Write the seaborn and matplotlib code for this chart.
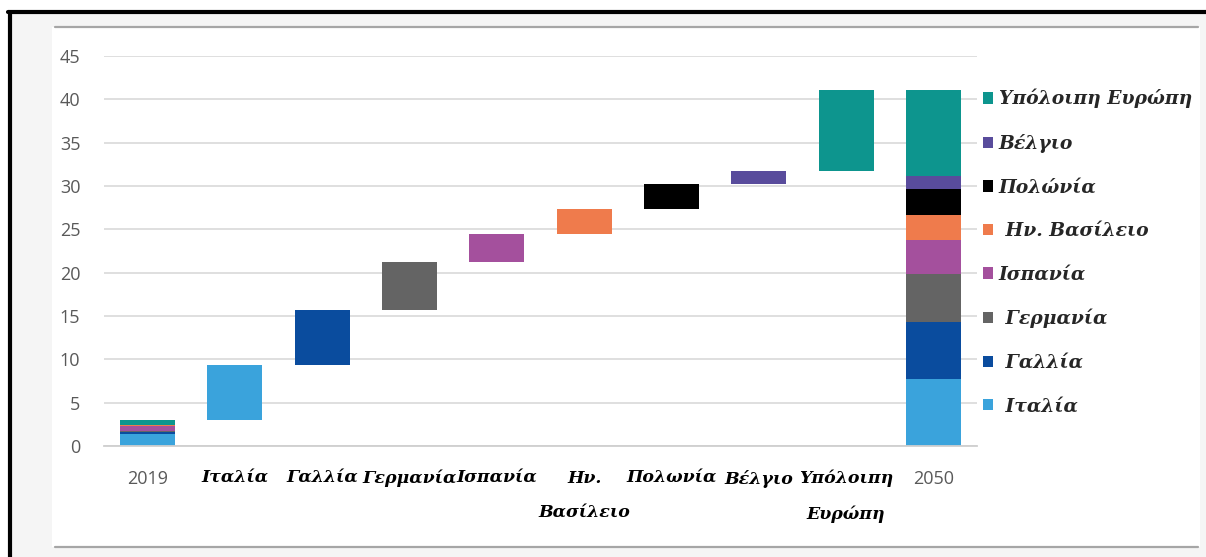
import matplotlib
matplotlib.use("Agg")
import matplotlib.pyplot as plt
from matplotlib.lines import Line2D
from matplotlib.patches import Rectangle, Patch
from matplotlib.font_manager import FontProperties
import seaborn as sns
import pandas as pd
import numpy as np

# ---- data -------------------------------------------------------------
countries = ["Ιταλία", "Γαλλία", "Γερμανία", "Ισπανία", "Ην. Βασίλειο",
             "Πολωνία", "Βέλγιο", "Υπόλοιπη Ευρώπη"]
tick_labels = ["2019", "Ιταλία", "Γαλλία", "Γερμανία", "Ισπανία",
               "Ην.\nΒασίλειο", "Πολωνία", "Βέλγιο", "Υπόλοιπη\nΕυρώπη", "2050"]
legend_labels = [" Ιταλία", " Γαλλία", " Γερμανία", "Ισπανία",
                 " Ην. Βασίλειο", "Πολώνία", "Βέλγιο", "Υπόλοιπη Ευρώπη"]
values_2019 = [1.4, 0.2, 0.1, 0.6, 0.1, 0.0, 0.0, 0.6]
values_2050 = [7.7, 6.6, 5.6, 3.9, 2.9, 2.9, 1.5, 10.0]
colors = ["#3aa3dc", "#0a4c9e", "#646464", "#a4509d",
          "#ef7b4c", "#000000", "#594c9c", "#0d958e"]

# ---- segments of the waterfall ---------------------------------------
rows = []
base = 0.0
for c, v, col in zip(countries, values_2019, colors):
    rows.append(("2019", c, base, v, col))
    base += v
level = base
for lab, v19, v50, col, c in zip(tick_labels[1:-1], values_2019, values_2050, colors, countries):
    step = v50 - v19
    rows.append((lab, c, level, step, col))
    level += step
base = 0.0
for c, v, col in zip(countries, values_2050, colors):
    rows.append(("2050", c, base, v, col))
    base += v
segments = pd.DataFrame(rows, columns=["column", "country", "bottom", "height", "color"])

# ---- figure -----------------------------------------------------------
W, H = 1206, 557
sns.set_theme(style="white")
plt.rcParams["font.family"] = ["Open Sans", "DejaVu Sans"]
fig = plt.figure(figsize=(W / 100, H / 100), dpi=100)
fig.patch.set_facecolor("white")


def fxy(x, y):
    return x / W, 1 - y / H


# outer frame and panel
x0, y0 = fxy(10, 557)
x1, y1 = fxy(1206, 12)
fig.add_artist(Rectangle((x0, y0), x1 - x0, y1 - y0, transform=fig.transFigure,
                         facecolor="#f5f5f5", edgecolor="none", zorder=-3))
x0, y0 = fxy(52, 547)
x1, y1 = fxy(1200, 27)
fig.add_artist(Rectangle((x0, y0), x1 - x0, y1 - y0, transform=fig.transFigure,
                         facecolor="white", edgecolor="none", zorder=-2))
for yy in (27, 547):
    a, b = fxy(55, yy)
    c, _ = fxy(1198, yy)
    fig.add_artist(Line2D([a, c], [b, b], transform=fig.transFigure,
                          color="#a6a6a6", lw=1.6))
a, b = fxy(8, 12)
c, _ = fxy(1206, 12)
fig.add_artist(Line2D([a, c], [b, b], transform=fig.transFigure, color="black", lw=3))
a, b = fxy(10, 12)
_, d = fxy(10, 557)
fig.add_artist(Line2D([a, a], [b, d], transform=fig.transFigure, color="black", lw=3))

ax_l, ax_b = fxy(104, 446)
ax_r, ax_t = fxy(977, 56)
ax = fig.add_axes([ax_l, ax_b, ax_r - ax_l, ax_t - ax_b])
ax.set_facecolor("none")

for _, r in segments.iterrows():
    if r["height"] <= 0:
        continue
    sns.barplot(x=[r["column"]], y=[r["height"]], order=tick_labels,
                bottom=r["bottom"], color=r["color"], saturation=1,
                width=0.63, errorbar=None, linewidth=0, ax=ax)

ax.set_xlim(-0.5, len(tick_labels) - 0.5)
ax.set_ylim(0, 45)
ax.set_yticks(np.arange(0, 46, 5))
ax.yaxis.grid(True, color="#d9d9d9", lw=1.2)
ax.set_axisbelow(True)
for s in ("top", "right", "left"):
    ax.spines[s].set_visible(False)
ax.spines["bottom"].set_color("#cfcfcf")
ax.spines["bottom"].set_linewidth(1.3)
ax.set_xlabel("")
ax.set_ylabel("")

ax.tick_params(axis="y", length=0, pad=17, labelsize=13, labelcolor="#595959")
ax.tick_params(axis="x", length=0, pad=17)
ax.set_xticks(range(len(tick_labels)))
ax.set_xticklabels(tick_labels)
for t in ax.get_xticklabels():
    if t.get_text() in ("2019", "2050"):
        t.set_fontfamily(["Open Sans", "DejaVu Sans"])
        t.set_fontsize(13)
        t.set_color("#595959")
    else:
        t.set_fontfamily(["DejaVu Serif"])
        t.set_fontweight("bold")
        t.set_fontstyle("italic")
        t.set_fontsize(12.5)
        t.set_color("black")
        t.set_linespacing(2.35)
    t.set_verticalalignment("top")

handles = [Patch(facecolor=c, edgecolor="none") for c in colors][::-1]
leg = ax.legend(handles, legend_labels[::-1], loc="upper left",
                bbox_to_anchor=fxy(983, 89), bbox_transform=fig.transFigure,
                frameon=False,
                prop=FontProperties(family="DejaVu Serif", weight="bold",
                                    style="italic", size=13.5),
                handlelength=0.55, handleheight=0.55, handletextpad=0.3,
                labelspacing=1.36, borderaxespad=0, borderpad=0)

fig.savefig("out.png", dpi=100)
